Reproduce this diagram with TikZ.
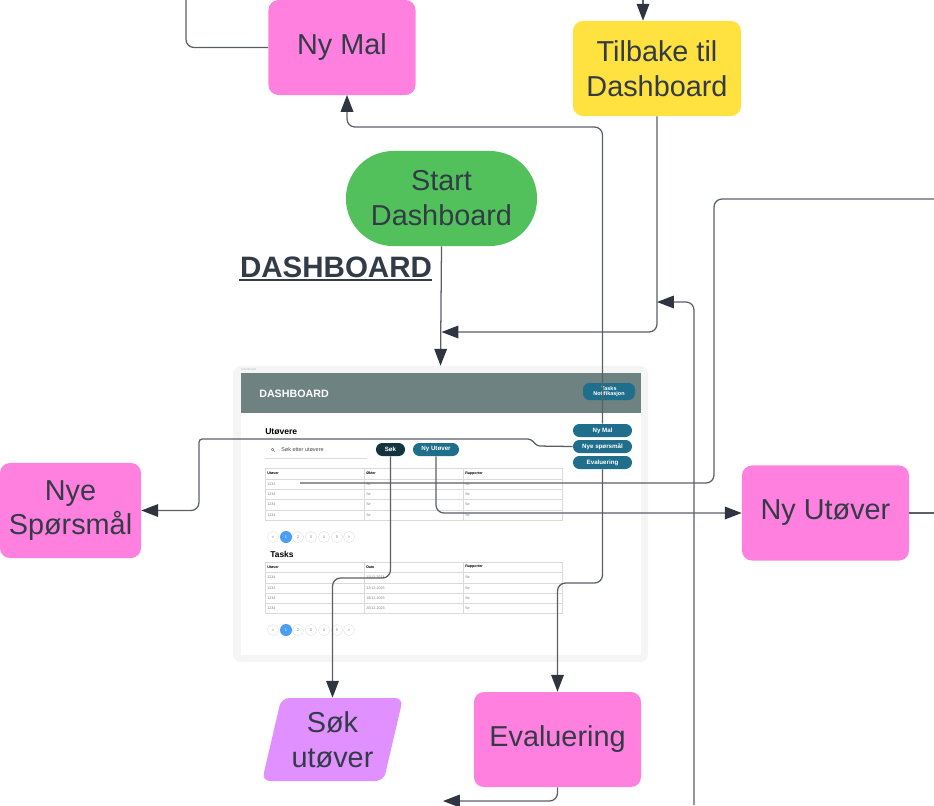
\documentclass[tikz,border=0pt]{standalone}
\usepackage{fontspec}
\setmainfont{Liberation Sans}
\usetikzlibrary{arrows.meta,shapes.geometric}

\definecolor{ink}{HTML}{333B47}
\definecolor{wire}{HTML}{5A5F66}
\definecolor{tipink}{HTML}{2E3540}
\definecolor{pinkfill}{HTML}{FF80DF}
\definecolor{yellowfill}{HTML}{FFE13F}
\definecolor{greenfill}{HTML}{52C15B}
\definecolor{purplefill}{HTML}{E090FF}
\definecolor{uihead}{HTML}{6F8282}
\definecolor{uiteal}{HTML}{1F6F8C}
\definecolor{uidark}{HTML}{12343F}
\definecolor{uiblue}{HTML}{4A9FF5}
\definecolor{uigrid}{HTML}{DADADA}

\newcommand\boxfont{\fontsize{20.5}{24.8}\selectfont}

\begin{document}
\begin{tikzpicture}[
  x=0.025cm, y=-0.025cm,
  stepbox/.style={rounded corners=0.25cm, text=ink, align=center, font=\boxfont, inner sep=0pt},
  pinkbox/.style={stepbox, fill=pinkfill, minimum width=4.175cm, minimum height=2.375cm},
  line/.style={draw=wire, line width=0.9pt, rounded corners=0.2cm},
  flow/.style={line, -{Triangle[length=12pt, width=9pt, color=tipink]}},
  uibtn/.style={fill=uiteal, text=white, rounded corners=0.16cm, minimum width=1.475cm,
    minimum height=0.325cm, inner sep=0pt, font=\fontsize{4.4}{5}\selectfont\bfseries},
  grid/.style={draw=uigrid, line width=0.3pt},
  tiny/.style={font=\fontsize{2.6}{3}\selectfont, text=gray, inner sep=0pt, anchor=west},
  tinyhead/.style={tiny, text=black, font=\fontsize{2.6}{3}\selectfont\bfseries},
  pagedot/.style={circle, draw=uigrid, line width=0.2pt, minimum size=0.28cm, inner sep=0pt,
    text=gray, font=\fontsize{2.8}{3}\selectfont}
]
\useasboundingbox (0,0) rectangle (934,805);

% boxes
\node[pinkbox, minimum width=3.675cm] (nymal) at (342,47.5) {Ny Mal};
\node[stepbox, fill=yellowfill, minimum width=4.2cm, minimum height=2.375cm] (tilbake) at (657,68.5) {Tilbake til\\Dashboard};
\node[stepbox, fill=greenfill, rounded corners=1.18cm, minimum width=4.775cm, minimum height=2.375cm] (start) at (441.5,198.5) {Start\\Dashboard};
\node[pinkbox, minimum width=3.525cm] (nyspm) at (70.5,510.5) {Nye\\Spørsmål};
\node[pinkbox] (nyutover) at (825.5,513) {Ny Utøver};
\node[pinkbox] (eval) at (557.5,739.5) {Evaluering};
\node[stepbox, fill=purplefill, trapezium, trapezium left angle=71, trapezium right angle=109,
  trapezium stretches body, minimum width=3.525cm, minimum height=2.075cm, rounded corners=0.2cm] (sokut) at (332.5,739.5) {Søk\\utøver};

\node[text=ink, font=\fontsize{21}{24}\selectfont\bfseries, inner sep=0pt] (heading) at (336,267) {DASHBOARD};
\draw[ink, line width=2pt] (239,280) -- (432,280);

% dashboard mockup
\node[fill=gray!8, rounded corners=0.2cm, minimum width=10.375cm, minimum height=7.4cm] (mock) at (440.5,514) {};
\fill[white] (241,413) rectangle (641,655);
\fill[uihead] (241,373) rectangle (641,413);
\node[tiny, text=gray!50, font=\fontsize{2.2}{2.5}\selectfont] at (241,369.5) {Dashboard};
\node[anchor=west, text=white, font=\fontsize{7.6}{8}\selectfont\bfseries, inner sep=0pt] at (259,393.5) {DASHBOARD};
\node[uibtn, minimum width=1.3cm, minimum height=0.425cm, align=center, font=\fontsize{3.9}{3.9}\selectfont\bfseries] (btnTask) at (609,391.5) {Tasks\\Notifikasjon};
\node[anchor=west, font=\fontsize{6.1}{7}\selectfont\bfseries, inner sep=0pt] at (265,432) {Utøvere};
\draw[gray, line width=0.3pt] (272.5,449.5) circle (1.3) (273.5,450.5) -- (275,452);
\node[tiny, text=black!70, font=\fontsize{3.9}{4}\selectfont] at (281,450) {Søk etter utøvere};
\draw[grid] (265,458) -- (367,458);
\node[uibtn, fill=uidark, minimum width=0.725cm] (btnSok) at (390.5,449.5) {Søk};
\node[uibtn, minimum width=1.15cm] (btnUtover) at (436,449.5) {Ny Utøver};
\node[uibtn] (btnMal) at (602.5,430.5) {Ny Mal};
\node[uibtn] (btnSpm) at (602.5,446.5) {Nye spørsmål};
\node[uibtn] (btnEval) at (602.5,462.5) {Evaluering};

% table utøvere
\draw[grid] (265,468) rectangle (562,520);
\foreach \y in {479,489,499,510} \draw[grid] (265,\y) -- (562,\y);
\foreach \x in {364,463} \draw[grid] (\x,468) -- (\x,520);
\node[tinyhead] at (267,473.5) {Utøver};
\node[tinyhead] at (366,473.5) {Økter};
\node[tinyhead] at (465,473.5) {Rapporter};
\foreach \y in {484,494,504.5,515} {
  \node[tiny] at (267,\y) {1234};
  \node[tiny] at (366,\y) {Se};
  \node[tiny] at (465,\y) {Se};
}
\foreach \x/\t in {273/<,286/1,298/2,311/3,324/4,337/5,349/>}
  \node[pagedot] at (\x,537) {\t};
\node[circle, fill=uiblue, minimum size=0.3cm, inner sep=0pt, text=white, font=\fontsize{2.8}{3}\selectfont] at (286,537) {1};

% table tasks
\node[anchor=west, font=\fontsize{6}{7}\selectfont\bfseries, inner sep=0pt] at (270,554) {Tasks};
\draw[grid] (265,562) rectangle (562,613);
\foreach \y in {572,583,593,603} \draw[grid] (265,\y) -- (562,\y);
\foreach \x in {364,463} \draw[grid] (\x,562) -- (\x,613);
\node[tinyhead] at (267,567) {Utøver};
\node[tinyhead] at (366,567) {Dato};
\node[tinyhead] at (465,567) {Rapporter};
\foreach \y/\d in {577.5/{11/12-2023},588/{12/12-2023},598/{18/12-2023},608/{20/12-2023}} {
  \node[tiny] at (267,\y) {1234};
  \node[tiny] at (366,\y) {\d};
  \node[tiny] at (465,\y) {Se};
}
\foreach \x/\t in {273/<,286/1,298/2,311/3,324/4,337/5,349/>}
  \node[pagedot] at (\x,630) {\t};
\node[circle, fill=uiblue, minimum size=0.3cm, inner sep=0pt, text=white, font=\fontsize{2.8}{3}\selectfont] at (286,630) {1};

% free ends
\coordinate (topA) at (186,0);
\coordinate (topB) at (643,0);
\coordinate (rightA) at (934,199);
\coordinate (rightB) at (934,513);
\coordinate (bottomA) at (694,805);
\coordinate (rowA) at (300,483);

% connectors
\draw[line] (nymal.west) -| (topA);
\draw[flow] (topB) -- (topB |- tilbake.north);
\draw[flow] (btnMal.north) |- (347,127) -- (347,95);
\draw[flow] (tilbake.south) |- (start.south |- 0,332);
\draw[flow] (start.south) -- (mock.north);
\draw[flow] (bottomA) |- (tilbake.south |- 0,302);
\draw[line] (rowA) -| (714,199) -- (rightA);
\draw[flow] (btnUtover.south) |- (nyutover.west);
\draw[line] (nyutover.east) -- (rightB);
\draw[flow, rounded corners=0.08cm] (btnSpm.west) -- (537,446) -- (531,439) -- (199,439) [rounded corners=0.2cm] |- (nyspm.east);
\draw[flow] (btnSok.south) |- (sokut.north |- 0,578) -- (sokut.north);
\draw[flow] (btnEval.south) |- (eval.north |- 0,583) -- (eval.north);
\draw[flow] (eval.south) |- (443,801);
\end{tikzpicture}
\end{document}
